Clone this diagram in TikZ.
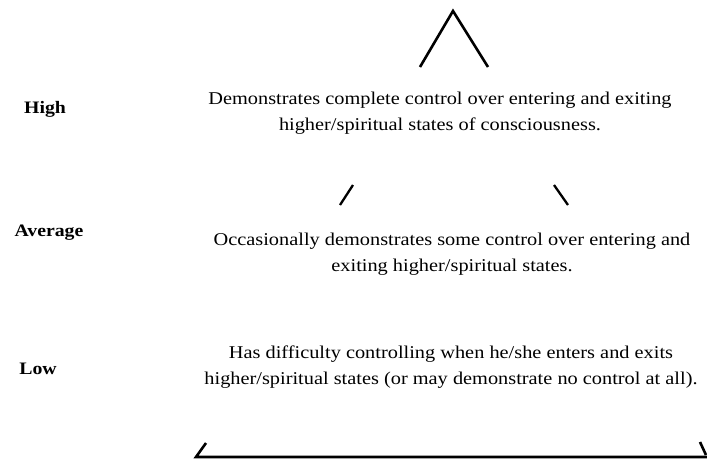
\documentclass[tikz,border=0pt]{standalone}
\usepackage{fontspec}
\setmainfont{Liberation Serif}[FakeStretch=1.13]
\begin{document}
\begin{tikzpicture}[x=1pt,y=-1pt,
  stroke/.style={line width=2.6pt,line cap=butt,line join=miter},
  level/.style={font=\fontsize{17.5}{20}\selectfont\bfseries,anchor=center},
  desc/.style={font=\fontsize{18}{26.5}\selectfont,align=center,anchor=center,inner sep=0pt}]
\useasboundingbox (0,0) rectangle (707,461);
% apex
\coordinate (apL) at (420,67);
\coordinate (apT) at (453,11);
\coordinate (apR) at (488,67);
\draw[stroke] (apL) -- (apT) -- (apR);
% middle strokes
\coordinate (mlA) at (340,205);
\coordinate (mlB) at (353,185);
\coordinate (mrA) at (554,185);
\coordinate (mrB) at (568,205);
\draw[stroke,line width=2.3pt] (mlA) -- (mlB);
\draw[stroke,line width=2.3pt] (mrA) -- (mrB);
% base
\coordinate (blT) at (206,443);
\coordinate (blB) at (196,457);
\coordinate (brB) at (707,457);
\coordinate (brT) at (700,442);
\draw[stroke] (blT) -- (blB) -- (brB);
\draw[stroke] (brT) -- (706,455);
% level labels
\node[level] (high) at (45,109) {High};
\node[level] (avg) at (49,233) {Average};
\node[level] (low) at (38,369) {Low};
% descriptions
\node[desc] (dhigh) at (440,113) {Demonstrates complete control over entering and exiting\\higher/spiritual states of consciousness.};
\node[desc] (davg) at (452,254) {Occasionally demonstrates some control over entering and\\exiting higher/spiritual states.};
\node[desc] (dlow) at (451,367) {Has difficulty controlling when he/she enters and exits\\higher/spiritual states (or may demonstrate no control at all).};
\end{tikzpicture}
\end{document}
